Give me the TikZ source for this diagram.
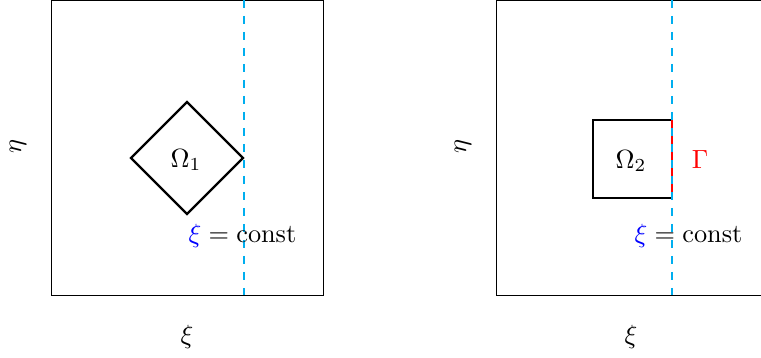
\documentclass[tikz,border=0pt]{standalone}
\definecolor{cutcyan}{RGB}{0,174,239}
\begin{document}
\begin{tikzpicture}[x=1pt,y=-1pt,
  frame/.style={draw=black,line width=0.9pt},
  regionline/.style={draw=black,line width=2.2pt,line join=miter},
  cutline/.style={draw=cutcyan,line width=2.2pt,dash pattern=on 8pt off 8pt},
  lbl/.style={inner sep=0pt,scale=2.63},
  every node/.style={lbl}]
\useasboundingbox (0,0) rectangle (761,358);
\begin{scope}
\clip (0,0) rectangle (761,358);
% left panel
\draw[frame] (51,0.5) rectangle (323,295);
\coordinate (l1) at (131,158);
\coordinate (t1) at (187,102);
\coordinate (r1) at (243,158);
\coordinate (b1) at (187,214);
\draw[regionline] (l1) -- (t1) -- (r1) -- (b1) -- cycle;
\coordinate (ltop) at (244,0);
\coordinate (lbot) at (244,295);
\draw[cutline] (ltop) -- (lbot);
\node (om1) at (186,160) {$\Omega_1$};
\node[anchor=base] (c1) at (242.5,243) {$\color{blue}\xi\color{black} = \mathrm{const}$};
\node[rotate=90] (eta1) at (18,147) {$\eta$};
\node (xi1) at (187,337) {$\xi$};
% right panel
\draw[frame] (496,0.5) rectangle (768,295);
\coordinate (a2) at (672,120);
\coordinate (b2) at (593,120);
\coordinate (c2) at (593,198);
\coordinate (d2) at (672,198);
\draw[regionline] (a2) -- (b2) -- (c2) -- (d2);
\draw[red,line width=2.2pt] (a2) -- (d2);
\coordinate (rtop) at (672,0);
\coordinate (rbot) at (672,295);
\draw[cutline] (rtop) -- (rbot);
\node (om2) at (631,161) {$\Omega_2$};
\node[text=red] (gam) at (700,160) {$\Gamma$};
\node[anchor=base] (c2l) at (688.5,243) {$\color{blue}\xi\color{black} = \mathrm{const}$};
\node[rotate=90] (eta2) at (463,147) {$\eta$};
\node (xi2) at (631,337) {$\xi$};
\end{scope}
\end{tikzpicture}
\end{document}
